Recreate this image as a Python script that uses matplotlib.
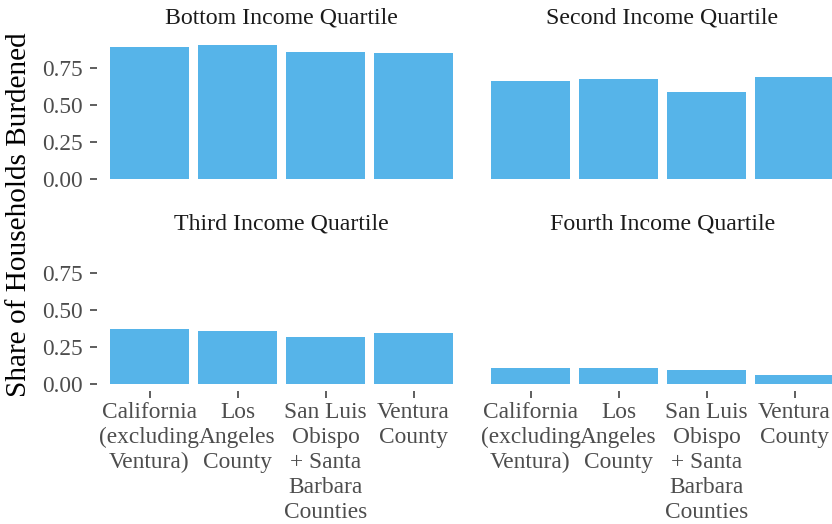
import matplotlib
matplotlib.use("Agg")
import matplotlib.pyplot as plt

plt.rcParams['font.family'] = ['Liberation Serif', 'DejaVu Serif']

# data
regions = ["California\n(excluding\nVentura)", "Los\nAngeles\nCounty",
           "San Luis\nObispo\n+ Santa\nBarbara\nCounties", "Ventura\nCounty"]
quartiles = ["Bottom Income Quartile", "Second Income Quartile",
             "Third Income Quartile", "Fourth Income Quartile"]
bottom_q = [0.890, 0.903, 0.856, 0.849]
second_q = [0.660, 0.674, 0.586, 0.687]
third_q = [0.374, 0.360, 0.320, 0.347]
fourth_q = [0.110, 0.110, 0.097, 0.063]
values = [bottom_q, second_q, third_q, fourth_q]

yticks = [0.0, 0.25, 0.5, 0.75]
ytick_labels = ["0.00", "0.25", "0.50", "0.75"]

BAR = "#56B4E9"
TICK_TXT = "#4D4D4D"

fig = plt.figure(figsize=(8.32, 5.24), dpi=100)
W, H = 832.0, 524.0

# panel rectangles in pixels
lefts = [96.7, 477.7]
rights = [466.3, 847.3]
tops = [38.4, 244.0]
bottoms = [185.4, 391.0]

x = [1, 2, 3, 4]
for i in range(4):
    r, c = divmod(i, 2)
    ax = fig.add_axes([lefts[c] / W, 1 - bottoms[r] / H,
                       (rights[c] - lefts[c]) / W, (bottoms[r] - tops[r]) / H])
    ax.bar(x, values[i], width=0.9, color=BAR)
    ax.set_xlim(0.4, 4.6)
    ax.set_ylim(-0.045, 0.948)
    for s in ax.spines.values():
        s.set_visible(False)
    ax.set_title(quartiles[i], fontsize=17.2, color="#1A1A1A", pad=10.5)
    ax.set_yticks(yticks)
    ax.set_xticks(x)
    ax.tick_params(axis='both', length=4.8, width=1.1, color="#333333",
                   labelcolor=TICK_TXT, labelsize=16.8)
    ax.tick_params(axis='y', pad=5)
    ax.tick_params(axis='x', pad=3)
    if c == 0:
        ax.set_yticklabels(ytick_labels)
    else:
        ax.tick_params(axis='y', left=False, labelleft=False)
    if r == 1:
        ax.set_xticklabels(regions, linespacing=1.25, ha='center')
    else:
        ax.tick_params(axis='x', bottom=False, labelbottom=False)

ylab = fig.text(19 / W, 1 - 214.5 / H, "Share of Households Burdened",
                rotation=90, fontsize=20, ha='center', va='center', color="black")
# size the axis title so it spans about 365 px like the reference
fig.canvas.draw()
ext = ylab.get_window_extent(fig.canvas.get_renderer())
ylab.set_fontsize(20 * 365.0 / ext.height)

fig.savefig("out.png", dpi=100)
